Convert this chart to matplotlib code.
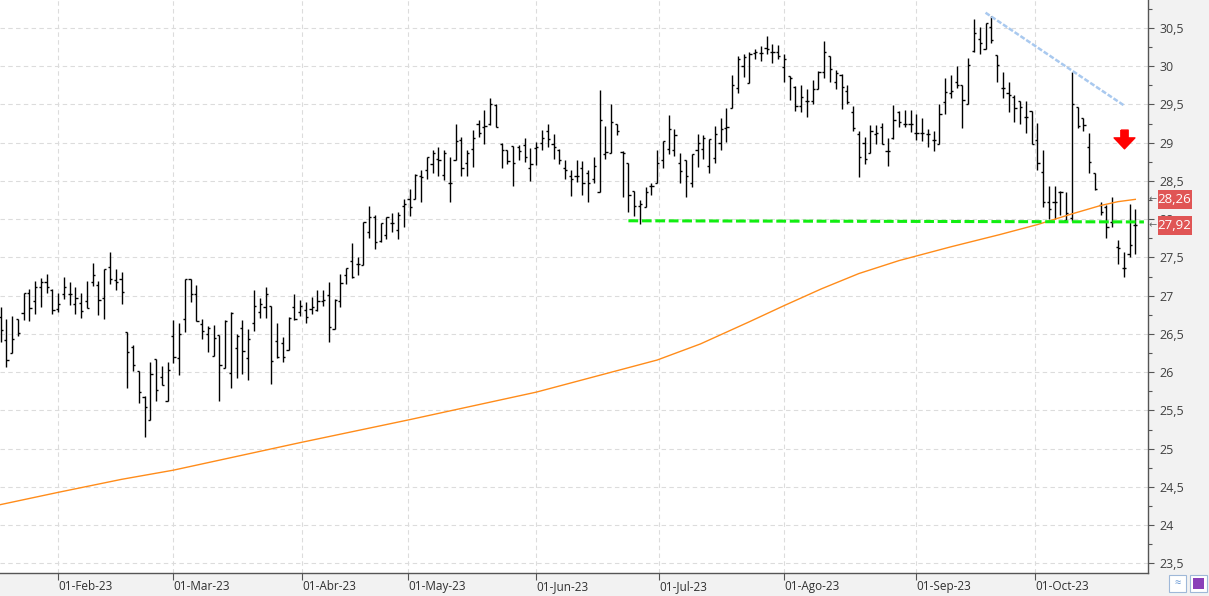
import numpy as np
import pandas as pd
import matplotlib
matplotlib.use('Agg')
import matplotlib.pyplot as plt
import matplotlib.transforms as mtransforms
from matplotlib.path import Path
from matplotlib.patches import Rectangle
from matplotlib.ticker import MultipleLocator, FuncFormatter

plt.rcParams['font.family'] = ['Open Sans', 'DejaVu Sans']

# trading days (BME calendar)
holidays = ['2023-04-07', '2023-04-10', '2023-05-01']
dates = pd.bdate_range('2023-01-18', '2023-10-25', freq='C', holidays=holidays)

opens = [
    26.72, 26.42, 26.25, 26.70, 26.77, 27.04, 26.93, 27.11, 27.18, 27.07,
    26.83, 27.02, 27.02, 26.89, 26.90, 26.93, 27.18, 27.14, 26.97, 27.37,
    27.21, 27.22, 26.52, 26.33, 26.02, 25.67, 25.38, 26.17, 25.94, 25.63,
    26.47, 26.18, 26.70, 27.22, 27.02, 26.63, 26.50, 26.21, 26.49, 26.05,
    25.99, 26.32, 26.58, 26.18, 26.64, 26.79, 26.85, 26.87, 26.41, 26.38,
    26.29, 26.85, 26.79, 26.82, 26.83, 26.81, 26.93, 27.01, 26.57, 26.93,
    27.27, 27.45, 27.42, 27.40, 27.83, 28.03, 27.72, 27.79, 27.95, 27.86,
    28.17, 28.27, 28.26, 28.57, 28.64, 28.72, 28.79, 28.58, 28.47, 28.77,
    29.03, 28.73, 28.92, 29.24, 29.21, 29.24, 29.49, 28.99, 28.90, 28.96,
    28.95, 28.97, 28.67, 28.93, 29.00, 29.16, 28.98, 28.91, 28.67, 28.56,
    28.56, 28.67, 28.60, 28.53, 28.36, 28.85, 28.86, 29.24, 28.88, 28.73,
    28.37, 28.17, 28.16, 28.43, 28.47, 28.77, 28.92, 28.91, 28.74, 28.77,
    28.47, 28.90, 28.92, 28.69, 28.80, 29.00, 29.19, 29.45, 29.71, 30.00,
    29.78, 30.17, 30.17, 30.24, 30.19, 30.19, 29.99, 29.87, 29.73, 29.48,
    29.55, 29.54, 29.70, 29.92, 30.13, 29.80, 29.89, 29.68, 29.40, 29.11,
    29.00, 28.86, 29.12, 29.21, 28.89, 29.06, 29.40, 29.25, 29.25, 29.13,
    29.13, 29.12, 29.03, 28.99, 29.53, 29.65, 29.79, 29.76, 29.50, 30.20,
    30.36, 30.23, 30.51, 30.15, 29.72, 29.65, 29.60, 29.55, 29.34, 29.41,
    29.04, 28.62, 28.23, 28.22, 28.35, 27.99, 28.02, 29.47, 29.32, 28.95,
    28.60, 28.19, 28.16, 27.97, 27.64, 27.36, 27.54, 27.93,
]
highs = [
    26.85, 26.69, 26.74, 26.70, 27.04, 27.09, 27.19, 27.23, 27.29, 27.09,
    27.03, 27.25, 27.18, 27.12, 27.04, 27.19, 27.43, 27.19, 27.35, 27.57,
    27.35, 27.31, 26.52, 26.35, 26.02, 25.69, 26.14, 26.17, 26.08, 26.14,
    26.68, 26.65, 27.22, 27.22, 27.14, 26.70, 26.61, 26.62, 26.49, 26.68,
    26.79, 26.50, 26.68, 26.57, 27.07, 26.97, 27.11, 26.87, 26.65, 26.46,
    26.72, 27.02, 26.95, 26.92, 26.99, 27.07, 27.07, 27.18, 26.96, 27.28,
    27.36, 27.69, 27.51, 27.97, 28.17, 28.06, 27.95, 28.03, 28.08, 28.09,
    28.26, 28.40, 28.59, 28.64, 28.82, 28.90, 28.94, 28.91, 28.81, 29.24,
    29.07, 28.91, 29.17, 29.30, 29.43, 29.58, 29.50, 29.00, 28.91, 28.96,
    28.97, 29.06, 28.93, 29.01, 29.17, 29.24, 29.11, 28.92, 28.77, 28.64,
    28.77, 28.76, 28.64, 28.81, 29.69, 29.22, 29.51, 29.24, 28.89, 28.74,
    28.37, 28.25, 28.42, 28.47, 28.90, 29.02, 29.36, 29.18, 28.86, 28.77,
    28.85, 29.11, 29.10, 29.05, 29.22, 29.32, 29.45, 29.89, 30.14, 30.16,
    30.19, 30.22, 30.27, 30.40, 30.29, 30.28, 30.16, 29.87, 29.74, 29.76,
    29.70, 29.82, 29.94, 30.33, 30.13, 29.95, 29.90, 29.75, 29.48, 29.15,
    29.07, 29.23, 29.23, 29.26, 29.06, 29.49, 29.42, 29.43, 29.43, 29.38,
    29.33, 29.18, 29.15, 29.50, 29.84, 29.88, 30.00, 29.76, 30.11, 30.62,
    30.51, 30.57, 30.66, 30.15, 29.92, 29.79, 29.62, 29.55, 29.54, 29.41,
    29.26, 28.90, 28.43, 28.43, 28.37, 28.36, 29.92, 29.47, 29.33, 29.13,
    28.60, 28.23, 28.19, 28.29, 27.73, 27.57, 28.20, 28.14,
]
lows = [
    26.40, 26.07, 26.25, 26.47, 26.68, 26.67, 26.76, 26.85, 27.04, 26.76,
    26.79, 26.96, 26.88, 26.76, 26.71, 26.84, 27.13, 26.75, 26.69, 27.16,
    27.07, 26.89, 25.79, 26.02, 25.60, 25.15, 25.38, 25.63, 25.83, 25.63,
    26.12, 25.96, 26.52, 26.92, 26.67, 26.44, 26.27, 26.21, 25.63, 26.05,
    25.80, 25.93, 25.98, 25.90, 26.54, 26.71, 26.71, 25.85, 26.19, 26.14,
    26.29, 26.68, 26.74, 26.64, 26.76, 26.80, 26.87, 26.39, 26.57, 26.85,
    27.15, 27.23, 27.27, 27.40, 27.75, 27.61, 27.70, 27.74, 27.83, 27.74,
    27.90, 28.04, 28.26, 28.22, 28.52, 28.61, 28.57, 28.51, 28.22, 28.77,
    28.56, 28.56, 28.68, 29.07, 28.99, 29.23, 29.20, 28.67, 28.72, 28.44,
    28.78, 28.75, 28.50, 28.71, 28.91, 28.95, 28.79, 28.72, 28.53, 28.30,
    28.49, 28.32, 28.22, 28.47, 28.36, 28.79, 28.86, 29.10, 28.29, 28.10,
    28.04, 27.94, 28.16, 28.32, 28.47, 28.67, 28.85, 28.83, 28.48, 28.29,
    28.42, 28.68, 28.79, 28.60, 28.73, 28.90, 29.01, 29.45, 29.65, 29.86,
    29.78, 30.09, 30.07, 30.16, 30.04, 30.09, 29.80, 29.56, 29.41, 29.40,
    29.34, 29.50, 29.70, 29.84, 29.80, 29.70, 29.44, 29.51, 29.16, 28.55,
    28.72, 28.86, 28.99, 28.99, 28.69, 29.05, 29.21, 29.20, 29.14, 29.03,
    29.02, 28.95, 28.89, 28.99, 29.38, 29.59, 29.71, 29.19, 29.50, 30.18,
    30.16, 30.23, 30.30, 29.79, 29.59, 29.40, 29.27, 29.24, 29.13, 28.98,
    28.65, 28.16, 28.00, 28.00, 28.06, 27.99, 27.98, 29.19, 29.15, 28.60,
    28.38, 28.06, 27.75, 27.90, 27.42, 27.25, 27.51, 27.54,
]
closes = [
    26.55, 26.16, 26.43, 26.51, 27.03, 26.84, 27.11, 27.18, 27.12, 26.82,
    26.89, 27.11, 27.02, 26.97, 26.80, 26.84, 27.27, 26.95, 27.35, 27.22,
    27.18, 27.05, 26.26, 26.09, 25.74, 25.54, 25.98, 25.77, 25.83, 26.03,
    26.20, 26.50, 27.22, 27.02, 26.67, 26.54, 26.58, 26.45, 26.10, 26.67,
    26.78, 26.48, 26.28, 26.44, 26.86, 26.89, 27.02, 26.15, 26.20, 26.20,
    26.71, 26.70, 26.86, 26.72, 26.85, 26.93, 26.95, 26.59, 26.95, 27.17,
    27.36, 27.25, 27.42, 27.97, 28.03, 27.70, 27.95, 28.03, 27.95, 28.06,
    28.20, 28.16, 28.58, 28.55, 28.82, 28.86, 28.78, 28.86, 28.47, 29.02,
    28.67, 28.87, 29.06, 29.13, 29.22, 29.50, 29.20, 28.90, 28.76, 28.73,
    28.89, 28.82, 28.72, 28.95, 29.06, 29.05, 28.94, 28.77, 28.65, 28.53,
    28.56, 28.48, 28.48, 28.69, 29.30, 28.88, 29.27, 29.16, 28.86, 28.32,
    28.17, 28.20, 28.36, 28.44, 28.73, 29.02, 29.18, 29.10, 28.63, 28.57,
    28.85, 29.00, 29.06, 29.05, 29.11, 29.18, 29.20, 29.76, 30.09, 30.12,
    30.16, 30.18, 30.17, 30.22, 30.19, 30.14, 30.09, 29.85, 29.48, 29.60,
    29.55, 29.70, 29.92, 30.19, 29.97, 29.91, 29.73, 29.53, 29.19, 28.81,
    28.79, 29.16, 29.13, 28.99, 28.89, 29.30, 29.27, 29.25, 29.25, 29.13,
    29.13, 29.11, 29.03, 29.38, 29.66, 29.68, 29.76, 29.56, 30.01, 30.44,
    30.30, 30.57, 30.34, 30.01, 29.72, 29.62, 29.45, 29.47, 29.34, 28.98,
    28.73, 28.23, 28.13, 28.22, 28.35, 28.08, 29.50, 29.22, 29.23, 28.75,
    28.39, 28.10, 27.90, 27.97, 27.62, 27.36, 27.66, 27.92,
]

# moving average (bar index, value)
ma_pos = [0, 10, 21, 30, 52, 71, 93, 104, 114, 121.5, 130, 136, 142.5, 149,
          156, 165, 173.5, 180, 186, 191, 194, 197]
ma_val = [24.27, 24.43, 24.60, 24.72, 25.08, 25.38, 25.74, 25.96, 26.16, 26.37,
          26.66, 26.87, 27.09, 27.29, 27.46, 27.64, 27.80, 27.93, 28.07, 28.18,
          28.23, 28.26]

# drawn objects
support_pos = [109, 198.5]
support_val = [27.98, 27.965]
trend_pos = [171, 195]
trend_val = [30.70, 29.49]
signal_pos = 195
signal_val = 29.03
ma_last = 28.26
last_close = 27.92

month_dates = ['2023-02-01', '2023-03-01', '2023-04-01', '2023-05-01', '2023-06-01',
               '2023-07-01', '2023-08-01', '2023-09-01', '2023-10-01']
month_labels = ['01-Feb-23', '01-Mar-23', '01-Abr-23', '01-May-23', '01-Jun-23',
                '01-Jul-23', '01-Ago-23', '01-Sep-23', '01-Oct-23']

idx = np.arange(len(dates))
tick_pos = np.interp(pd.to_datetime(month_dates).asi8, dates.asi8, idx)

fig = plt.figure(figsize=(12.09, 5.96), dpi=100, facecolor='#f2f2f2')
ax = fig.add_axes([0, 23 / 596, 1148 / 1209, 573 / 596])
ax.set_facecolor('white')

# OHLC bars
tw = 0.38
ax.vlines(idx, lows, highs, color='black', lw=1.0, zorder=3)
ax.hlines(opens, idx - tw, idx, color='black', lw=1.0, zorder=3)
ax.hlines(closes, idx, idx + tw, color='black', lw=1.0, zorder=3)

ax.plot(ma_pos, ma_val, color='#ff8c1a', lw=1.0, zorder=4)
ax.plot(support_pos, support_val, color='#11ee11', lw=2.2, dashes=(3.2, 1.2), zorder=5)
ax.plot(trend_pos, trend_val, color='#a9c9ef', lw=1.8, dashes=(2.0, 0.8), zorder=5)

arrow = Path([(-0.35, 1.0), (0.35, 1.0), (0.35, 0.25), (1.0, 0.25), (0.0, -0.8),
              (-1.0, 0.25), (-0.35, 0.25), (-0.35, 1.0)])
ax.plot([signal_pos], [signal_val], marker=arrow, ms=15, color='#ff0000',
        mec='#ff0000', ls='none', zorder=6)

ax.set_xlim(-0.1, 1148 / 5.76 - 0.1)
ax.set_ylim(30.866 - 573 / 76.5, 30.866)

# axes styling
for s in ['top', 'left']:
    ax.spines[s].set_visible(False)
ax.spines['right'].set_color('#555555')
ax.spines['bottom'].set_color('#555555')
ax.spines['right'].set_linewidth(1.0)
ax.spines['bottom'].set_linewidth(1.0)

ax.yaxis.tick_right()
ax.yaxis.set_major_locator(MultipleLocator(0.5))
ax.yaxis.set_minor_locator(MultipleLocator(0.25))
ax.yaxis.set_major_formatter(FuncFormatter(lambda v, p: ('%g' % v).replace('.', ',')))
ax.tick_params(axis='y', which='major', length=4.5, width=0.8, color='#555555',
               labelsize=9, labelcolor='#404040', pad=3.5)
ax.tick_params(axis='y', which='minor', length=3, width=0.8, color='#555555')

ax.set_xticks(tick_pos)
ax.set_xticklabels(month_labels)
ax.tick_params(axis='x', length=5.3, width=0.8, color='#555555', labelsize=8.5,
               labelcolor='#303030', pad=0)
for lab in ax.get_xticklabels():
    lab.set_horizontalalignment('left')

ax.grid(True, color='#dcdcdc', linestyle=(0, (4, 3)), lw=0.8, zorder=0)
ax.set_axisbelow(True)

# last-value labels on the price axis
trans = mtransforms.blended_transform_factory(ax.transAxes, ax.transData)
bh = 19 / 76.5
for val in [ma_last, last_close]:
    ax.add_patch(Rectangle((1157.5 / 1148, val - bh / 2), 34 / 1148, bh,
                           transform=trans, facecolor='#e05555', edgecolor='none',
                           clip_on=False, zorder=10))
    ax.text(1174.5 / 1148, val, ('%.2f' % val).replace('.', ','), transform=trans,
            ha='center', va='center', color='white', fontsize=9.5, zorder=11,
            clip_on=False)
    ax.text(1152.5 / 1148, val, '\u2190', transform=trans, ha='center', va='center',
            color='#666666', fontsize=7, zorder=11, clip_on=False)

# small buttons bottom-right
fig.patches.append(Rectangle((1169 / 1209, 4 / 596), 17 / 1209, 17 / 596,
                             transform=fig.transFigure, facecolor='white',
                             edgecolor='#9fb8d8', lw=0.8))
fig.patches.append(Rectangle((1190 / 1209, 4 / 596), 17 / 1209, 17 / 596,
                             transform=fig.transFigure, facecolor='white',
                             edgecolor='#9fb8d8', lw=0.8))
fig.text(1177.5 / 1209, 12.5 / 596, '\u2248', color='#5a8fd0', fontsize=8,
         ha='center', va='center')
fig.patches.append(Rectangle((1193 / 1209, 7 / 596), 11 / 1209, 11 / 596,
                             transform=fig.transFigure, facecolor='#8a3fb8',
                             edgecolor='none'))

fig.savefig('out.png', dpi=100, facecolor=fig.get_facecolor())
